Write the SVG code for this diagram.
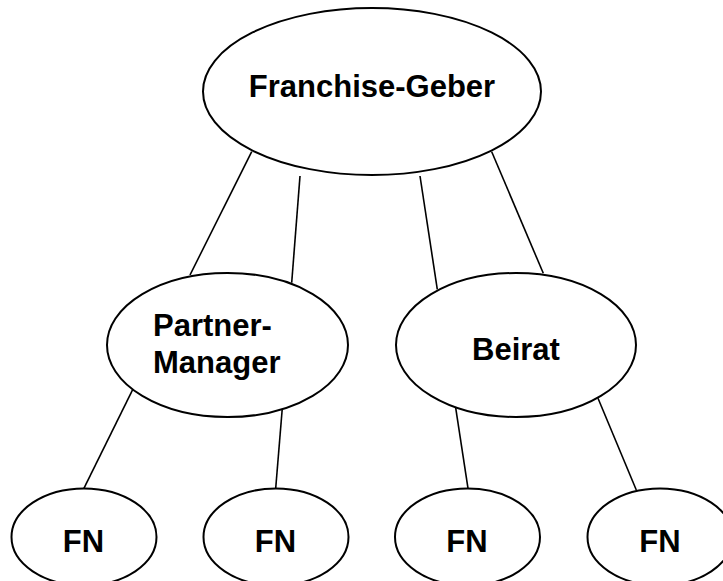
<svg xmlns="http://www.w3.org/2000/svg" width="723" height="581" viewBox="0 0 723 581">
<style>
.n{fill:#fff;stroke:#000;stroke-width:2}
.t{font-family:"Liberation Sans",Arial,sans-serif;font-weight:bold;font-size:31px;fill:#000}
.c line{stroke:#000;stroke-width:1.6}
</style>
<rect width="723" height="581" fill="#fff"/>
<g class="c" id="connectors">
<line x1="251.7" y1="151.7" x2="190" y2="275"/>
<line x1="300" y1="176" x2="291.7" y2="282.7"/>
<line x1="420" y1="176" x2="437.3" y2="289.3"/>
<line x1="491.7" y1="151.7" x2="543.3" y2="273.3"/>
<line x1="132.8" y1="389.3" x2="83.9" y2="488.3"/>
<line x1="282.2" y1="409.3" x2="275.7" y2="488.3"/>
<line x1="455.5" y1="406.7" x2="468" y2="488.3"/>
<line x1="598" y1="398.3" x2="636.3" y2="490"/>
</g>
<g id="franchise-geber">
<ellipse class="n" cx="372" cy="91.5" rx="169" ry="83.5"/>
<text class="t" x="372" y="97" text-anchor="middle">Franchise-Geber</text>
</g>
<g id="partner-manager">
<ellipse class="n" cx="227.5" cy="345" rx="120.5" ry="72"/>
<text class="t" x="153" y="335.7">Partner-</text>
<text class="t" x="153" y="372.7">Manager</text>
</g>
<g id="beirat">
<ellipse class="n" cx="516" cy="345" rx="120" ry="72"/>
<text class="t" x="516" y="360" text-anchor="middle">Beirat</text>
</g>
<g id="fn1">
<ellipse class="n" cx="84" cy="537" rx="72.5" ry="48.5"/>
<text class="t" x="83.5" y="552" text-anchor="middle">FN</text>
</g>
<g id="fn2">
<ellipse class="n" cx="276" cy="537" rx="72.5" ry="48.5"/>
<text class="t" x="275.5" y="552" text-anchor="middle">FN</text>
</g>
<g id="fn3">
<ellipse class="n" cx="467.5" cy="537" rx="72.5" ry="48.5"/>
<text class="t" x="467" y="552" text-anchor="middle">FN</text>
</g>
<g id="fn4">
<ellipse class="n" cx="660" cy="537" rx="72.5" ry="48.5"/>
<text class="t" x="660" y="552" text-anchor="middle">FN</text>
</g>
</svg>
